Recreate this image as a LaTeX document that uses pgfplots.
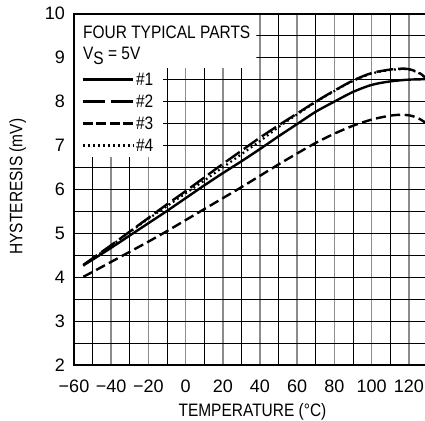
\documentclass[border=0pt]{standalone}
\usepackage{pgfplots}
\pgfplotsset{compat=1.18}
\usepackage{fontspec}
\setmainfont{Liberation Sans}[FakeStretch=0.86]
\newfontfamily\tickfont{Liberation Sans}
\newcommand{\lbl}{\fontsize{18bp}{21bp}\selectfont}
\newcommand{\tck}{\tickfont\fontsize{18bp}{21bp}\selectfont}

\pgfplotstableread{
T V
-55 4.27
-50 4.40
-40 4.67
-30 4.95
-20 5.23
-10 5.51
0 5.80
10 6.09
20 6.37
30 6.64
40 6.92
50 7.21
60 7.49
70 7.77
80 8.00
90 8.22
100 8.38
110 8.46
120 8.50
130 8.51
}\partone

\pgfplotstableread{
T V
-55 4.28
-50 4.43
-40 4.73
-30 5.04
-20 5.35
-10 5.66
0 5.96
10 6.27
20 6.58
30 6.88
40 7.18
50 7.46
60 7.73
70 8.00
80 8.25
90 8.48
100 8.65
110 8.73
116 8.75
120 8.74
125 8.67
128 8.58
130 8.50
}\parttwo

\pgfplotstableread{
T V
-55 4.01
-50 4.12
-40 4.35
-30 4.58
-20 4.81
-10 5.05
0 5.30
10 5.55
20 5.80
30 6.05
40 6.31
50 6.57
60 6.82
70 7.06
80 7.27
90 7.45
100 7.59
110 7.68
117 7.70
122 7.67
126 7.60
130 7.49
}\partthree

\pgfplotstableread{
T V
-55 4.26
-50 4.42
-40 4.72
-30 5.03
-20 5.33
-10 5.62
0 5.91
10 6.20
20 6.50
30 6.80
40 7.10
50 7.42
60 7.71
70 7.99
80 8.24
90 8.47
100 8.64
110 8.72
116 8.74
120 8.73
125 8.66
128 8.57
130 8.49
}\partfour

\begin{document}
\begin{tikzpicture}
\begin{axis}[
  at={(0,0)}, anchor=south west,
  scale only axis, width=353.4bp, height=351.2bp,
  xmin=-60, xmax=130, ymin=2, ymax=10,
  xtick={-60,-40,...,120},
  xticklabels={−60,−40,−20,0,20,40,60,80,100,120},
  ytick={2,3,...,10},
  yticklabels={2,3,4,5,6,7,8,9,10},
  major tick length=0pt, minor tick length=0pt,
  xmajorgrids=true, ymajorgrids=false,
  major grid style={black!45, line width=1.5bp},
  extra x ticks={-50,-30,...,130}, extra x tick labels={},
  extra x tick style={grid=major, major grid style={black, line width=0.95bp}},
  extra y ticks={2,2.5,...,10}, extra y tick labels={},
  extra y tick style={grid=major, major grid style={black, line width=0.95bp}},
  axis line style={line width=2.4bp},
  xticklabel style={font=\tck, anchor=center, yshift=-21.7bp, inner sep=0pt},
  yticklabel style={font=\tck, anchor=east, inner sep=0pt, xshift=-9bp},
  xlabel={TEMPERATURE (°C)},
  ylabel={HYSTERESIS (mV)},
  xlabel style={font=\lbl, at={(axis description cs:0.505,-0.133)}, anchor=center},
  ylabel style={font=\lbl, at={(axis description cs:-0.159,0.508)}, anchor=center, rotate=0},
]
\fill[white] (axis cs:-60,10) -- (axis cs:38,10) -- (axis cs:38,8.77) -- (axis cs:-12.2,8.77)
  -- (axis cs:-12.2,6.74) -- (axis cs:-60,6.74) -- cycle;
\draw[line width=2.4bp, line cap=rect] (rel axis cs:1,1) -- (rel axis cs:0,1) -- (rel axis cs:0,0);

\addplot[black, no marks, line width=2.4bp, smooth, tension=0.5] table[x=T,y=V] {\partone};
\addplot[black, no marks, line width=2.4bp, smooth, tension=0.5, dash pattern=on 17bp off 5bp] table[x=T,y=V] {\parttwo};
\addplot[black, no marks, line width=2.4bp, smooth, tension=0.5, dash pattern=on 10bp off 4.5bp] table[x=T,y=V] {\partthree};
\addplot[black, no marks, line width=2.2bp, smooth, tension=0.5, dash pattern=on 1.8bp off 3.2bp] table[x=T,y=V] {\partfour};

\node[anchor=base west, inner sep=0pt, font=\lbl] at (axis cs:-55.2,9.44) {FOUR TYPICAL PARTS};
\node[anchor=base west, inner sep=0pt, font=\lbl] at (axis cs:-55.2,8.95) {V\raisebox{-5bp}{S} = 5V};
\draw[line width=2.4bp] (axis cs:-55.2,8.5) -- (axis cs:-28.3,8.5);
\draw[line width=2.4bp, dash pattern=on 22bp off 6bp] (axis cs:-55.2,8.0) -- (axis cs:-28.3,8.0);
\draw[line width=2.4bp, dash pattern=on 10bp off 3.3bp] (axis cs:-55.2,7.5) -- (axis cs:-28.3,7.5);
\draw[line width=2.2bp, dash pattern=on 1.8bp off 3.2bp] (axis cs:-55.2,7.0) -- (axis cs:-28.3,7.0);
\node[anchor=west, inner sep=0pt, font=\lbl] at (axis cs:-26.7,8.5) {\#1};
\node[anchor=west, inner sep=0pt, font=\lbl] at (axis cs:-26.7,8.0) {\#2};
\node[anchor=west, inner sep=0pt, font=\lbl] at (axis cs:-26.7,7.5) {\#3};
\node[anchor=west, inner sep=0pt, font=\lbl] at (axis cs:-26.7,7.0) {\#4};
\end{axis}
\pgfresetboundingbox
\path (-74bp,-56bp) rectangle (351bp,365bp);
\end{tikzpicture}
\end{document}
